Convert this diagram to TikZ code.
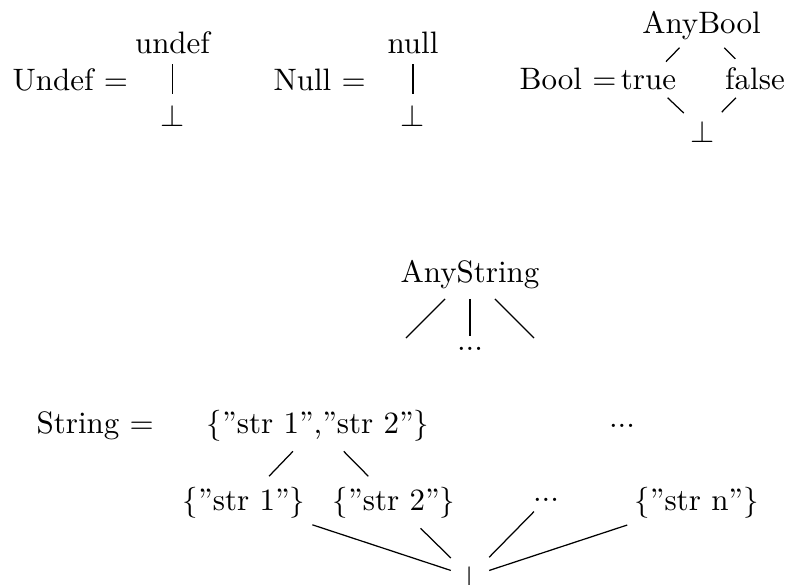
\documentclass[tikz,border=0pt]{standalone}
\begin{document}
\begin{tikzpicture}[x=0.3226pt,y=-0.3226pt,
  t/.style={inner xsep=2.1pt,inner ysep=3.2pt,anchor=base},
  tb/.style={t,inner ysep=2.5pt},
  lbl/.style={inner sep=0pt,anchor=base west},
  edge/.style={line width=0.4pt}]
\useasboundingbox (0,0) rectangle (787,584);
% Undef
\node[lbl] (lU) at (12,90) {Undef $=$};
\node[t] (undef) at (172.5,53.3) {undef};
\node[t] (bU) at (172.5,126) {$\bot$};
% Null
\node[lbl] (lN) at (273,90) {Null $=$};
\node[t] (null) at (413,53.3) {null};
\node[t] (bN) at (413,126) {$\bot$};
% Bool
\node[lbl] (lB) at (519,89) {Bool $=$};
\node[tb] (anyB) at (701.5,33) {AnyBool};
\node[tb] (tr) at (648.5,89) {true};
\node[tb] (fa) at (755,89) {false};
\node[tb] (bB) at (703,142) {$\bot$};
% AnyString
\node[t] (anyS) at (470,282) {AnyString};
\node[t] (dA) at (470,350) {...};
\coordinate (fl) at (406,338);
\coordinate (fr) at (534,338);
% String
\node[lbl] (lS) at (36,433) {String $=$};
\node[t] (s12) at (318,433) {$\{$”str 1”,”str 2”$\}$};
\node[t] (d1) at (622,427) {...};
\node[t] (s1) at (244,510) {$\{$”str 1”$\}$};
\node[t] (s2) at (394,510) {$\{$”str 2”$\}$};
\node[t] (d2) at (546,501) {...};
\node[t] (sn) at (696.5,510) {$\{$”str n”$\}$};
\node[t] (bS) at (470,587.5) {$\bot$};
% edges
\draw[edge] (undef) -- (bU);
\draw[edge] (null) -- (bN);
\draw[edge] (anyB) -- (tr);
\draw[edge] (anyB) -- (fa);
\draw[edge] (tr) -- (bB);
\draw[edge] (fa) -- (bB);
\draw[edge] (anyS) -- (fl);
\draw[edge] (anyS) -- (dA);
\draw[edge] (anyS) -- (fr);
\draw[edge] (s12) -- (s1);
\draw[edge] (s12) -- (s2);
\draw[edge] (s1) -- (bS);
\draw[edge] (s2) -- (bS);
\draw[edge] (d2) -- (bS);
\draw[edge] (sn) -- (bS);
\end{tikzpicture}
\end{document}
